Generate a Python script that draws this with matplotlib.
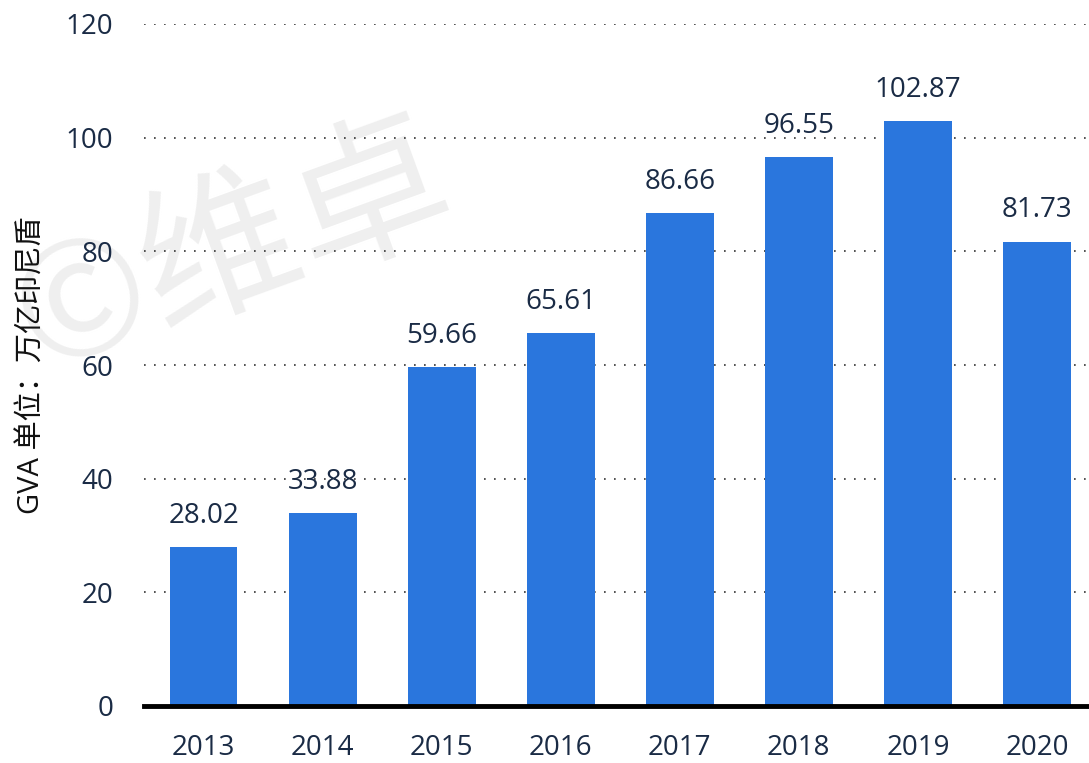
import matplotlib.pyplot as plt
import numpy as np

plt.rcParams['font.family'] = ['Open Sans', 'Noto Sans CJK SC', 'DejaVu Sans']

years = ['2013', '2014', '2015', '2016', '2017', '2018', '2019', '2020']
gva = [28.02, 33.88, 59.66, 65.61, 86.66, 96.55, 102.87, 81.73]
y_ticks = [0, 20, 40, 60, 80, 100, 120]

text_color = '#1a2b45'
bar_color = '#2a76dd'

fig = plt.figure(figsize=(10.89, 7.63), dpi=100)
ax = fig.add_axes([144 / 1089, 57 / 763, (1096.5 - 144) / 1089, (706 - 24) / 763])
ax.set_facecolor('none')

# watermark, kept behind everything else
ax.text(0.215, 0.67, '©维卓', transform=fig.transFigure, fontsize=115, color='#efefef',
        rotation=20, ha='center', va='center',
        family=['Noto Sans CJK SC', 'DejaVu Sans'], zorder=0, clip_on=False)

x = np.arange(len(years))
bars = ax.bar(x, gva, width=0.57, color=bar_color, zorder=3)

# value labels above bars
for xi, v in zip(x, gva):
    ax.text(xi, v + 3, f'{v:.2f}', ha='center', va='bottom', fontsize=20, color=text_color, zorder=4)

ax.set_xlim(-0.5, len(years) - 0.5)
ax.set_ylim(0, 120)
ax.set_yticks(y_ticks)
ax.set_xticks(x)
ax.set_xticklabels(years)
ax.tick_params(axis='both', length=0, labelsize=20, labelcolor=text_color)
ax.tick_params(axis='x', pad=20)
ax.tick_params(axis='y', pad=22)

ax.yaxis.grid(True, linestyle=(0, (1, 5)), linewidth=1.2, color='#333333', zorder=1)
ax.set_axisbelow(True)
for s in ax.spines.values():
    s.set_visible(False)
ax.axhline(0, color='black', linewidth=3.5, zorder=5, clip_on=False)

ax.set_ylabel('GVA 单位：万亿印尼盾', fontsize=21, color='#111111', labelpad=14)

plt.savefig('out.png', dpi=100)
